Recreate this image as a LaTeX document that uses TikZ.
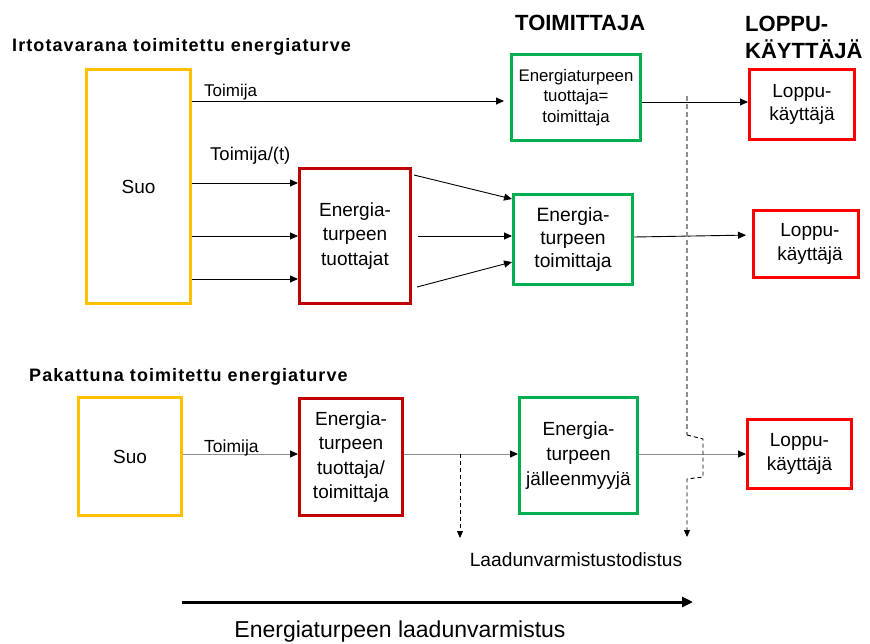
\documentclass[tikz,border=0pt]{standalone}
\usepackage{fontspec}
\setmainfont{Liberation Sans}
\newfontfamily\titlefont[LetterSpace=6]{Liberation Sans}
\usetikzlibrary{arrows.meta,calc}
\definecolor{cYel}{HTML}{FFC000}
\definecolor{cDred}{HTML}{C00000}
\definecolor{cGrn}{HTML}{00B050}
\definecolor{cRed}{HTML}{FF0000}
\definecolor{cGray}{HTML}{8C8C8C}
\definecolor{cLgray}{HTML}{909090}
\begin{document}
\begin{tikzpicture}[x=1pt,y=-1pt,
  box/.style={draw,line width=3pt,align=center,inner sep=0pt,font=\fontsize{19}{24.5}\selectfont},
  lbl/.style={inner sep=0pt,anchor=base west},
  arr/.style={line width=0.9pt,-{Triangle[length=8pt,width=7pt]}},
  garr/.style={draw=cGray,line width=1pt,-{Triangle[length=8pt,width=7pt,color=black]}},
  darr/.style={line width=0.9pt,dashed,dash pattern=on 4pt off 3pt,-{Triangle[length=7pt,width=6pt]}},
  ttl/.style={inner sep=0pt,anchor=west,font=\titlefont\bfseries\fontsize{18}{22}\selectfont}]
\useasboundingbox (0,0) rectangle (870,643);

% titles
\node[ttl] (t1) at (12,47) {Irtotavarana toimitettu energiaturve};
\node[ttl] (t2) at (29,377) {Pakattuna toimitettu energiaturve};
\node[inner sep=0pt,anchor=west,font=\bfseries\fontsize{22}{27}\selectfont] (t3) at (515,23) {TOIMITTAJA};
\node[inner sep=0pt,anchor=west,align=left,font=\bfseries\fontsize{22}{27}\selectfont] (t4) at (745,37) {LOPPU-\\KÄYTTÄJÄ};

% top section boxes
\node[box,draw=cYel,minimum width=104,minimum height=234] (suo1) at (138.5,186.5) {Suo};
\node[box,draw=cDred,minimum width=111,minimum height=135] (tuot1) at (355,236) {Energia-\\turpeen\\tuottajat};
\node[box,draw=cGrn,minimum width=129,minimum height=86,font=\fontsize{16.8}{20.5}\selectfont] (tf1) at (576,97.5) {Energiaturpeen\\tuottaja=\\toimittaja};
\node[box,draw=cGrn,minimum width=119,minimum height=90,font=\fontsize{19.3}{23.3}\selectfont] (tf2) at (573,239.5) {Energia-\\turpeen\\toimittaja};
\node[box,draw=cRed,minimum width=105,minimum height=70,font=\fontsize{19}{23.3}\selectfont] (lk1) at (802,104.5) {Loppu-\\käyttäjä};
\node[box,draw=cRed,minimum width=105,minimum height=67,font=\fontsize{19}{23.3}\selectfont] (lk2) at (806,244) {\hspace*{8pt}Loppu-\\\hspace*{8pt}käyttäjä};

% bottom section boxes
\node[box,draw=cYel,minimum width=103,minimum height=118] (suo2) at (130,456.5) {Suo};
\node[box,draw=cDred,minimum width=103,minimum height=117] (tuot2) at (351,457) {Energia-\\turpeen\\tuottaja/\\toimittaja};
\node[box,draw=cGrn,minimum width=118,minimum height=116,font=\fontsize{19}{25}\selectfont] (jm) at (578.5,455.5) {Energia-\\turpeen\\jälleenmyyjä};
\node[box,draw=cRed,minimum width=104,minimum height=69,font=\fontsize{19}{23.3}\selectfont] (lk3) at (799.5,454) {Loppu-\\käyttäjä};

% top connectors
\draw[arr,shorten >=6pt] (suo1.east |- 0,101) -- (tf1.west |- 0,101);
\node[lbl,font=\fontsize{17}{20}\selectfont] (lt1) at (204,96) {Toimija};
\node[lbl,font=\fontsize{18.5}{22}\selectfont] (lt2) at (210,160) {Toimija/(t)};
\foreach \yy in {183,236,279} \draw[arr] (suo1.east |- 0,\yy) -- (tuot1.west |- 0,\yy);
\coordinate (u1) at (414,175);
\coordinate (u2) at (418,236);
\coordinate (u3) at (417,287);
\draw[arr] (u1) -- (tf2.west |- 0,199);
\draw[arr] (u2) -- (tf2.west |- 0,236);
\draw[arr] (u3) -- (tf2.west |- 0,262);
\draw[arr] (tf1.east |- 0,102) -- (lk1.west |- 0,102);
\draw[arr,shorten >=6pt] (tf2.east |- 0,237) -- (lk2.west |- 0,235);

% bottom connectors
\draw[garr] (suo2.east |- 0,454) -- (tuot2.west |- 0,454);
\node[lbl,font=\fontsize{17.5}{20}\selectfont] (lt3) at (204,452) {Toimija};
\draw[garr] (tuot2.east |- 0,454) -- (jm.west |- 0,454);
\draw[garr] (jm.east |- 0,454) -- (lk3.west |- 0,454);
\coordinate (d1) at (460,454);
\coordinate (d1e) at (460,538);
\draw[darr] (d1) -- (d1e);

% long dashed line with jog
\coordinate (v0) at (687,96);
\coordinate (v1) at (687,435);
\coordinate (v2) at (703,439);
\coordinate (v3) at (703,477);
\coordinate (v4) at (687,479);
\coordinate (v5) at (687,537);
\draw[draw=cLgray,line width=1.2pt,dash pattern=on 5pt off 3pt] (v0) -- (v1);
\draw[darr] (v1) -- (v2) -- (v3) -- (v4) -- (v5);

\node[font=\fontsize{19.2}{22}\selectfont] (lq) at (576,560) {Laadunvarmistustodistus};

% quality assurance arrow
\coordinate (b0) at (182,602);
\coordinate (b1) at (693,602);
\draw[line width=3pt,-{Triangle[length=11pt,width=10pt]}] (b0) -- (b1);
\node[font=\fontsize{23}{27}\selectfont] (bl) at (400,632) {Energiaturpeen laadunvarmistus};
\end{tikzpicture}
\end{document}
